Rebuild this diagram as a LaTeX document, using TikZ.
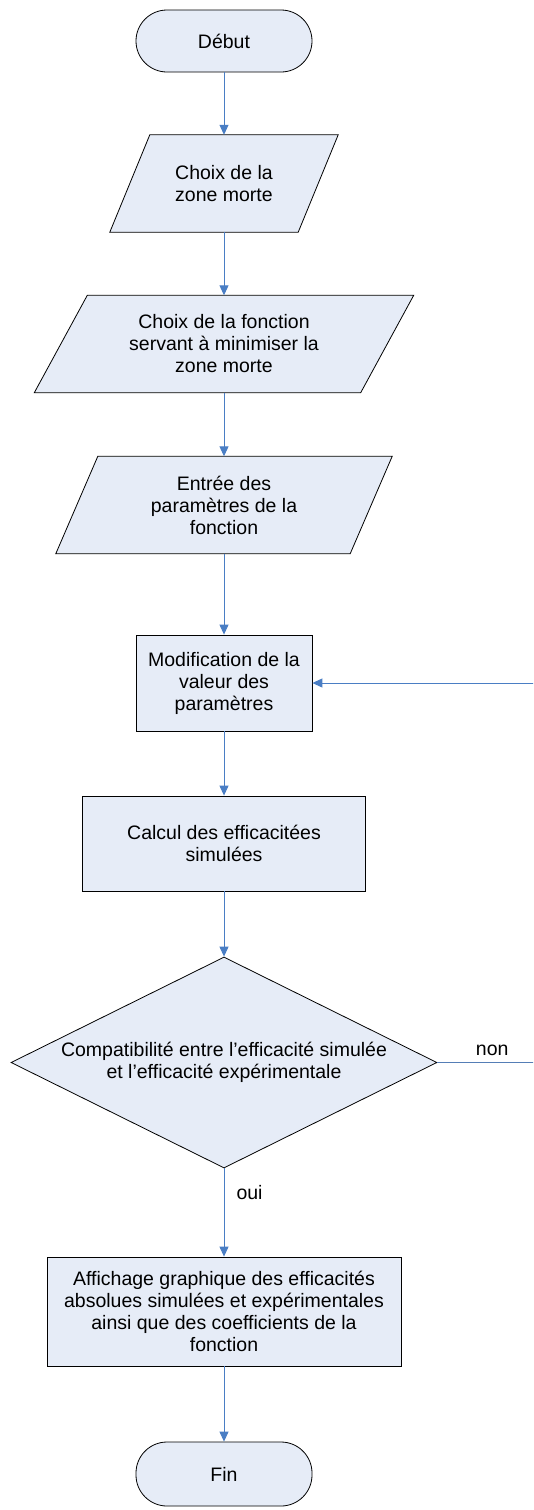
\documentclass[tikz,border=0pt]{standalone}
\usepackage{fontspec}
\setmainfont{Liberation Sans}
\usetikzlibrary{shapes.geometric,arrows.meta}
\pgfdeclarelayer{background}
\pgfsetlayers{background,main}
\definecolor{boxfill}{HTML}{E6ECF7}
\definecolor{arrowblue}{HTML}{4A7EC4}
\begin{document}
\begin{tikzpicture}[x=1pt,y=-1pt,
  every node/.style={font=\fontsize{19.5}{22}\selectfont, align=center, inner sep=0pt},
  term/.style={draw=black, fill=boxfill, rounded corners=31pt, minimum width=176pt, minimum height=62pt, line width=0.8pt},
  procbox/.style={draw=black, fill=boxfill, line width=0.8pt},
  iotext/.style={minimum height=97pt},
  iobox/.style={draw=black, fill=boxfill, line width=0.8pt},
  decbox/.style={draw=black, fill=boxfill, line width=0.8pt, shape=diamond, shape aspect=2.02, minimum width=426pt, minimum height=211pt},
  flow/.style={draw=arrowblue, line width=1pt, -{Triangle[length=10pt,width=9pt]}},
  plainflow/.style={draw=arrowblue!80!gray, line width=0.8pt}
]
\useasboundingbox (0,0) rectangle (533,1510);
\clip (0,0) rectangle (533,1510);

\node[term] (start) at (224,41) {Début};

\node[iotext, minimum width=188pt] (p1) at (224,183.5) {Choix de la\\zone morte};
\node[iotext, minimum width=326pt] (p2) at (224,344) {Choix de la fonction\\servant à minimiser la\\zone morte};
\node[iotext, minimum width=294pt] (p3) at (224,505) {Entrée des\\paramètres de la\\fonction};
\begin{pgfonlayer}{background}
\draw[iobox] ([xshift=20pt]p1.north west) -- ([xshift=20pt]p1.north east) -- ([xshift=-20pt]p1.south east) -- ([xshift=-20pt]p1.south west) -- cycle;
\draw[iobox] ([xshift=26.5pt]p2.north west) -- ([xshift=26.5pt]p2.north east) -- ([xshift=-26.5pt]p2.south east) -- ([xshift=-26.5pt]p2.south west) -- cycle;
\draw[iobox] ([xshift=21pt]p3.north west) -- ([xshift=21pt]p3.north east) -- ([xshift=-21pt]p3.south east) -- ([xshift=-21pt]p3.south west) -- cycle;
\end{pgfonlayer}

\node[procbox, minimum width=176pt, minimum height=96pt] (r1) at (224,683) {Modification de la\\valeur des\\paramètres};
\node[procbox, minimum width=283pt, minimum height=95pt] (r2) at (224,843.5) {Calcul des efficacitées\\simulées};
\node[decbox] (dec) at (224,1062.5) {Compatibilité entre l’efficacité simulée\\et l’efficacité expérimentale};
\node[procbox, minimum width=354pt, minimum height=109pt] (r3) at (224,1311.5) {Affichage graphique des efficacités\\absolues simulées et expérimentales\\ainsi que des coefficients de la\\fonction};
\node[term, minimum height=64pt] (fin) at (224,1474) {Fin};

\draw[flow] (start) -- (p1);
\draw[flow] (p1) -- (p2);
\draw[flow] (p2) -- (p3);
\draw[flow] (p3) -- (r1);
\draw[flow] (r1) -- (r2);
\draw[flow] (r2) -- (dec);
\draw[flow] (dec) -- node[pos=0.27, right=12pt] {oui} (r3);
\draw[flow] (r3) -- (fin);

\coordinate (c1) at (547,1062.5);
\coordinate (c2) at (547,683);
\draw[plainflow] (dec.east) -- node[above=6pt] {non} (c1);
\draw[flow] (c1) -- (c2) -- (r1.east);
\end{tikzpicture}
\end{document}
